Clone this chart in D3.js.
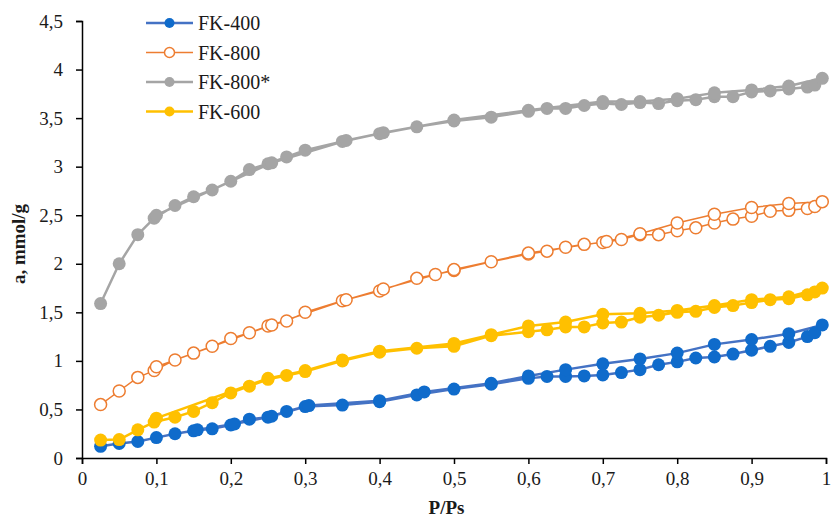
<!DOCTYPE html>
<html>
<head>
<meta charset="utf-8">
<script src="https://cdn.jsdelivr.net/npm/d3@7"></script>
<style>
  html, body { margin: 0; padding: 0; background: #fff; overflow: hidden; }
  svg { display: block; }
  svg text { font-family: "Liberation Serif", "Times New Roman", serif; fill: #1a1a1a; }
</style>
</head>
<body>
<svg id="chart"></svg>
<script>
// adsorption branch then desorption branch, [P/Ps, a]
let fk400 = [[0.025,0.12],[0.05,0.15],[0.075,0.17],[0.1,0.21],[0.125,0.25],[0.15,0.28],[0.175,0.30],[0.2,0.34],[0.225,0.40],[0.25,0.42],[0.275,0.48],[0.3,0.53],[0.35,0.545],[0.4,0.58],[0.45,0.65],[0.5,0.71],[0.55,0.76],[0.6,0.82],[0.625,0.84],[0.65,0.84],[0.675,0.845],[0.7,0.855],[0.725,0.88],[0.75,0.91],[0.775,0.96],[0.8,0.99],[0.825,1.03],[0.85,1.04],[0.875,1.07],[0.9,1.11],[0.925,1.15],[0.95,1.19],[0.975,1.25],[0.985,1.29],[0.995,1.37],
  [0.95,1.28],[0.9,1.22],[0.85,1.17],[0.8,1.08],[0.75,1.02],[0.7,0.97],[0.65,0.91],[0.6,0.845],[0.55,0.77],[0.46,0.68],[0.4,0.59],[0.305,0.54],[0.255,0.43],[0.205,0.35],[0.155,0.29]]
let fk800 = [[0.025,0.55],[0.05,0.69],[0.075,0.83],[0.097,0.90],[0.125,1.01],[0.15,1.08],[0.175,1.15],[0.2,1.23],[0.225,1.29],[0.25,1.36],[0.275,1.41],[0.3,1.50],[0.35,1.62],[0.4,1.72],[0.45,1.85],[0.475,1.89],[0.5,1.93],[0.55,2.02],[0.6,2.10],[0.625,2.13],[0.65,2.17],[0.675,2.20],[0.7,2.22],[0.725,2.25],[0.75,2.30],[0.775,2.30],[0.8,2.34],[0.825,2.37],[0.85,2.42],[0.875,2.46],[0.9,2.49],[0.925,2.54],[0.95,2.55],[0.975,2.57],[0.985,2.59],[0.995,2.64],
  [0.95,2.62],[0.9,2.58],[0.85,2.51],[0.8,2.42],[0.75,2.31],[0.705,2.23],[0.6,2.11],[0.5,1.94],[0.405,1.74],[0.355,1.63],[0.255,1.37],[0.1,0.94]]
let fk800s = [[0.025,1.59],[0.05,2.0],[0.075,2.30],[0.097,2.47],[0.125,2.60],[0.15,2.69],[0.175,2.76],[0.2,2.85],[0.225,2.97],[0.25,3.03],[0.275,3.10],[0.3,3.17],[0.35,3.26],[0.4,3.34],[0.45,3.41],[0.5,3.47],[0.55,3.51],[0.6,3.57],[0.625,3.60],[0.65,3.60],[0.675,3.63],[0.7,3.65],[0.725,3.64],[0.75,3.66],[0.775,3.65],[0.8,3.68],[0.825,3.69],[0.85,3.72],[0.875,3.72],[0.9,3.77],[0.925,3.78],[0.95,3.80],[0.975,3.82],[0.985,3.84],[0.995,3.91],
  [0.95,3.83],[0.9,3.79],[0.85,3.76],[0.8,3.70],[0.75,3.67],[0.7,3.67],[0.6,3.58],[0.5,3.48],[0.405,3.35],[0.355,3.27],[0.255,3.04],[0.1,2.50]]
let fk600 = [[0.025,0.185],[0.05,0.19],[0.075,0.29],[0.097,0.37],[0.125,0.42],[0.15,0.48],[0.175,0.57],[0.2,0.67],[0.225,0.74],[0.25,0.81],[0.275,0.85],[0.3,0.89],[0.35,1.00],[0.4,1.09],[0.45,1.13],[0.5,1.15],[0.55,1.26],[0.6,1.30],[0.625,1.32],[0.65,1.35],[0.675,1.35],[0.7,1.39],[0.725,1.40],[0.75,1.45],[0.775,1.47],[0.8,1.50],[0.825,1.51],[0.85,1.55],[0.875,1.57],[0.9,1.60],[0.925,1.63],[0.95,1.64],[0.975,1.68],[0.985,1.71],[0.995,1.75],
  [0.95,1.66],[0.9,1.63],[0.85,1.57],[0.8,1.52],[0.75,1.49],[0.7,1.48],[0.65,1.40],[0.6,1.36],[0.55,1.27],[0.5,1.18],[0.4,1.10],[0.35,1.01],[0.3,0.90],[0.25,0.82],[0.1,0.41]]

let seriesNames = ['FK-400', 'FK-800', 'FK-800*', 'FK-600']
let seriesData = [fk400, fk800, fk800s, fk600]
let xTicks = [0, 0.1, 0.2, 0.3, 0.4, 0.5, 0.6, 0.7, 0.8, 0.9, 1]
let yTicks = [0, 0.5, 1, 1.5, 2, 2.5, 3, 3.5, 4, 4.5]

let styles = [
    {line: '#4472C4', fill: '#0F6BCB', stroke: '#0F6BCB', width: 2.5, r: 6.5},
    {line: '#ED7D31', fill: '#fff', stroke: '#ED7D31', width: 1.5, r: 6},
    {line: '#A5A5A5', fill: '#A5A5A5', stroke: '#A5A5A5', width: 2.5, r: 6.5},
    {line: '#FFC000', fill: '#FFC000', stroke: '#FFC000', width: 2.5, r: 6.5}
]

let width = 832, height = 519
let margin = {top: 21, right: 6, bottom: 61, left: 82}
let innerWidth = width - margin.left - margin.right
let innerHeight = height - margin.top - margin.bottom

let svg = d3.select('#chart').attr('width', width).attr('height', height)
let g = svg.append('g').attr('transform', `translate(${margin.left},${margin.top})`)

let x = d3.scaleLinear().domain([0, 1]).range([0, innerWidth])
let y = d3.scaleLinear().domain([0, 4.5]).range([innerHeight, 0])
let fmt = v => String(v).replace('.', ',')

let xAxis = g.append('g').attr('transform', `translate(0,${innerHeight})`)
    .call(d3.axisBottom(x).tickValues(xTicks).tickFormat(fmt).tickSize(6).tickPadding(8))
let yAxis = g.append('g')
    .call(d3.axisLeft(y).tickValues(yTicks).tickFormat(fmt).tickSize(6).tickPadding(13))
;[xAxis, yAxis].forEach(a => {
    a.select('.domain').attr('stroke', '#000').attr('stroke-width', 1.5)
    a.selectAll('.tick line').attr('stroke', '#000').attr('stroke-width', 1.5)
    a.selectAll('.tick text').attr('font-size', 19).attr('font-family', '"Liberation Serif", serif').attr('fill', '#333')
})

let line = d3.line().x(d => x(d[0])).y(d => y(d[1]))

seriesData.forEach((data, i) => {
    let s = styles[i]
    let sg = g.append('g')
    sg.append('path')
        .datum(data)
        .attr('d', line)
        .attr('fill', 'none')
        .attr('stroke', s.line)
        .attr('stroke-width', s.width)
        .attr('stroke-linejoin', 'round')
    sg.selectAll('circle')
        .data(data)
        .join('circle')
            .attr('cx', d => x(d[0]))
            .attr('cy', d => y(d[1]))
            .attr('r', s.r)
            .attr('fill', s.fill)
            .attr('stroke', s.stroke)
            .attr('stroke-width', i === 1 ? 1.5 : 0)
})

// legend
let legend = svg.append('g').attr('transform', 'translate(146,23)')
seriesNames.forEach((name, i) => {
    let s = styles[i]
    let row = legend.append('g').attr('transform', `translate(0,${i * 29.5})`)
    row.append('line').attr('x1', 0).attr('x2', 47).attr('y1', 0).attr('y2', 0)
        .attr('stroke', s.line).attr('stroke-width', s.width)
    row.append('circle').attr('cx', 23.5).attr('cy', 0).attr('r', 5)
        .attr('fill', s.fill).attr('stroke', s.stroke).attr('stroke-width', i === 1 ? 1.5 : 0)
    row.append('text').attr('x', 52).attr('y', 7).attr('font-size', 20).text(name)
})

// axis titles
svg.append('text')
    .attr('x', margin.left + x(0.49)).attr('y', 514)
    .attr('text-anchor', 'middle').attr('font-size', 19).attr('font-weight', 'bold')
    .text('P/Ps')
svg.append('text')
    .attr('transform', 'translate(25,244) rotate(-90)')
    .attr('text-anchor', 'middle').attr('font-size', 19).attr('font-weight', 'bold')
    .text('a, mmol/g')
</script>
</body>
</html>
